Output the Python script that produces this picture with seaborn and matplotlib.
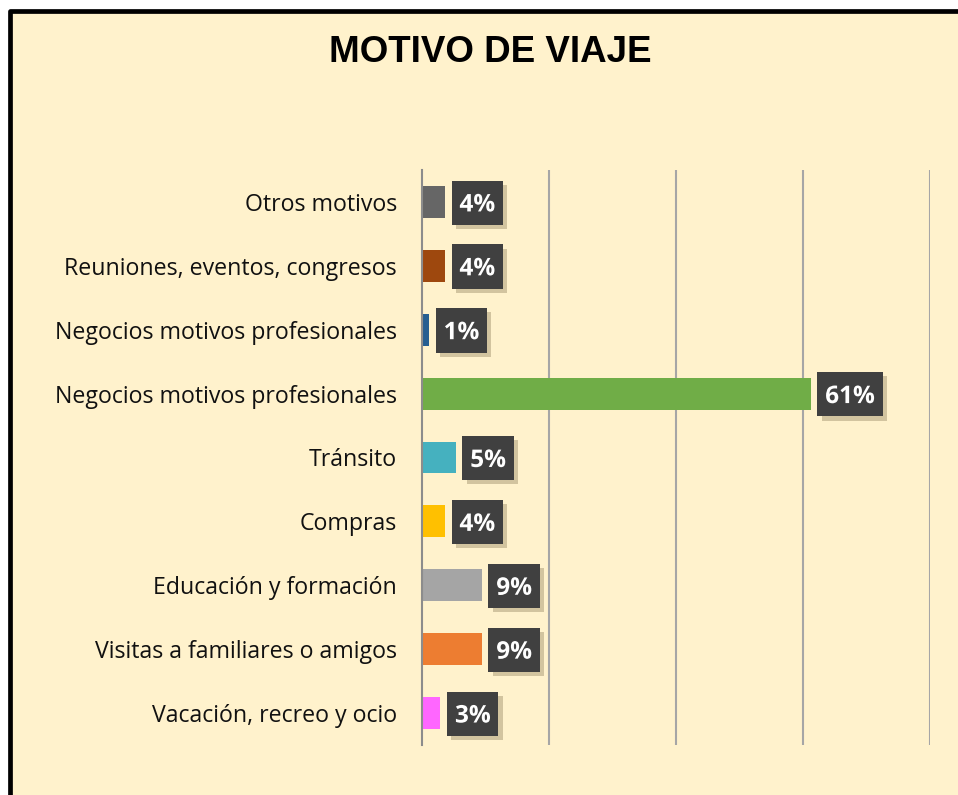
import matplotlib
matplotlib.use("Agg")
import matplotlib.pyplot as plt
import matplotlib.patheffects as pe
from matplotlib.patches import Rectangle
import seaborn as sns
import pandas as pd
import numpy as np

# datos (de arriba hacia abajo)
categorias = [
    "Otros motivos",
    "Reuniones, eventos, congresos",
    "Negocios motivos profesionales",
    "Negocios motivos profesionales",
    "Tránsito",
    "Compras",
    "Educación y formación",
    "Visitas a familiares o amigos",
    "Vacación, recreo y ocio",
]
valores = [3.6, 3.6, 1.1, 61.2, 5.3, 3.6, 9.4, 9.4, 2.9]
colores = ["#666666", "#9E480E", "#255E91", "#70AD47", "#45B1BF",
           "#FFC000", "#A5A5A5", "#ED7D31", "#FF66FF"]

crema = "#FFF2CC"

sns.set_style("white")
plt.rcParams["font.family"] = ["Open Sans", "DejaVu Sans"]

fig = plt.figure(figsize=(9.58, 7.95), dpi=100)
fig.patch.set_facecolor("white")

# marco del grafico (solo se ve arriba y a la izquierda)
marco = Rectangle((10 / 958, -0.2), 1.2, 0.2 + 784 / 795,
                  transform=fig.transFigure, facecolor=crema,
                  edgecolor="black", linewidth=3.4, joinstyle="round",
                  zorder=-10)
fig.patches.append(marco)

ax = fig.add_axes([422 / 958, 1 - 745 / 795, 508 / 958, 575 / 795])
ax.set_facecolor(crema)

claves = [str(i) for i in range(len(categorias))]
df = pd.DataFrame({"clave": claves, "valor": valores})
sns.barplot(data=df, x="valor", y="clave", hue="clave", palette=colores,
            legend=False, width=0.5, saturation=1, orient="h", ax=ax,
            linewidth=0, zorder=3)

ax.set_xlim(0, 80)
ax.set_ylim(len(categorias) - 0.5, -0.5)
ax.set_xticks([20, 40, 60, 80])
ax.set_xticklabels([])
ax.tick_params(axis="x", length=0)
ax.grid(axis="x", color="#A6A6A6", linewidth=1.5, zorder=0)
ax.set_axisbelow(True)

ax.set_yticks(range(len(categorias)))
ax.set_yticklabels(categorias, fontsize=16.7, color="#111111")
ax.tick_params(axis="y", which="major", length=0, pad=18)
ax.set_yticks(np.arange(-0.5, len(categorias), 1), minor=True)
ax.tick_params(axis="y", which="minor", length=6, width=1.3,
               color="#8C8C8C", direction="out")
ax.set_xlabel("")
ax.set_ylabel("")

for lado in ["top", "right", "bottom"]:
    ax.spines[lado].set_visible(False)
ax.spines["left"].set_color("#8C8C8C")
ax.spines["left"].set_linewidth(1.5)
ax.spines["left"].set_zorder(4)

# etiquetas de datos en cajas oscuras con sombra
for i, v in enumerate(valores):
    t = ax.annotate(f"{v:.0f}%", xy=(v, i), xytext=(10.5, -0.5),
                    textcoords="offset points", ha="left", va="center",
                    fontsize=17.5, fontweight="bold", color="white", zorder=6,
                    bbox=dict(boxstyle="square,pad=0.32", facecolor="#404040",
                              linewidth=0, mutation_aspect=1.3))
    # bajar un poco el texto dentro de la caja
    t.set_path_effects([pe.Stroke(offset=(0, -2), linewidth=0)])
    t.get_bbox_patch().set_path_effects([
        pe.SimplePatchShadow(offset=(3, -3), shadow_rgbFace="#9C8E6A",
                             alpha=0.45),
        pe.Normal(),
    ])

fig.text(490 / 958, 1 - 53 / 795, "MOTIVO DE VIAJE", ha="center", va="center",
         fontsize=26.5, fontweight="bold", family="Liberation Sans",
         color="black")

fig.savefig("out.png", dpi=100, facecolor=fig.get_facecolor())
